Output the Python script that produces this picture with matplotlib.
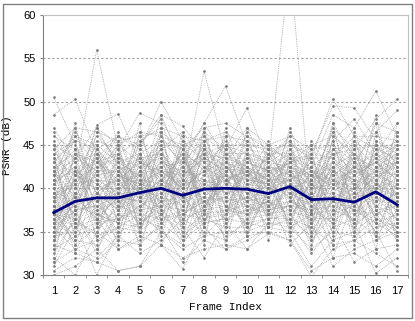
import matplotlib
matplotlib.use("Agg")
import matplotlib.pyplot as plt
from matplotlib.patches import Rectangle

# frame indices and average PSNR (thick navy line)
frames = list(range(1, 18))
mean_psnr = [37.2, 38.5, 38.9, 38.9, 39.5, 40.0, 39.2, 39.9, 40.0,
             39.9, 39.4, 40.2, 38.7, 38.8, 38.4, 39.6, 38.1]

# per-sequence PSNR curves (grey dotted lines), one row per sequence
seq_psnr = [
    [50.5, 45.0, 41.0, 44.0, 40.5, 43.0, 42.0, 44.0, 43.5, 42.5, 41.0, 43.0, 40.0, 42.0, 41.0, 43.5, 42.0],
    [48.5, 50.3, 44.0, 42.5, 41.5, 44.5, 40.0, 42.0, 45.5, 41.0, 40.5, 42.5, 41.5, 43.0, 40.5, 42.0, 41.5],
    [38.0, 42.0, 56.0, 44.5, 39.0, 41.0, 43.5, 40.0, 42.0, 44.5, 39.5, 41.0, 43.0, 40.5, 42.5, 41.0, 43.0],
    [36.5, 39.0, 47.3, 48.6, 43.0, 41.5, 44.0, 42.5, 40.5, 43.0, 42.0, 40.0, 41.0, 44.0, 42.0, 40.5, 39.5],
    [35.0, 38.5, 45.5, 44.5, 48.7, 47.5, 42.0, 41.0, 43.0, 41.5, 43.5, 41.5, 39.0, 41.5, 43.0, 42.0, 40.0],
    [40.0, 37.0, 42.0, 46.0, 44.5, 50.0, 45.5, 43.0, 41.5, 40.0, 42.5, 44.0, 40.5, 39.5, 41.5, 43.0, 41.0],
    [42.0, 44.5, 39.5, 41.0, 45.0, 48.5, 47.2, 44.0, 42.5, 41.5, 40.5, 42.0, 41.5, 40.5, 39.0, 41.5, 42.5],
    [37.5, 40.5, 43.5, 38.5, 42.0, 44.0, 41.0, 53.5, 44.0, 42.0, 41.0, 43.5, 42.0, 41.0, 40.0, 44.0, 41.5],
    [39.0, 41.5, 40.0, 42.5, 40.0, 42.5, 43.0, 47.5, 51.8, 45.0, 42.5, 41.5, 40.5, 43.0, 41.5, 40.0, 42.0],
    [41.0, 43.0, 44.0, 40.5, 43.5, 41.0, 42.5, 46.5, 44.5, 49.3, 43.0, 42.5, 41.0, 42.5, 44.0, 41.5, 40.5],
    [38.5, 41.0, 42.5, 43.5, 41.0, 45.5, 44.5, 42.0, 45.0, 44.0, 43.0, 66.0, 37.3, 41.0, 42.0, 43.0, 41.0],
    [36.0, 39.5, 41.0, 39.5, 42.5, 43.5, 40.5, 45.0, 43.0, 46.0, 44.5, 45.0, 43.5, 50.3, 46.0, 44.5, 43.5],
    [37.0, 38.0, 39.0, 41.5, 39.5, 42.0, 41.5, 43.5, 42.0, 41.0, 41.5, 43.0, 44.0, 49.5, 49.3, 45.5, 44.0],
    [40.5, 42.5, 38.5, 40.0, 41.0, 40.5, 42.0, 41.5, 44.0, 42.5, 40.0, 41.0, 42.5, 48.5, 47.0, 51.2, 46.0],
    [39.5, 40.0, 41.5, 42.0, 40.0, 43.0, 39.5, 42.5, 41.0, 43.5, 42.0, 42.5, 40.0, 47.0, 44.5, 48.0, 50.3],
    [38.0, 41.0, 40.0, 41.0, 43.0, 42.0, 40.0, 44.5, 42.5, 40.5, 41.5, 44.5, 41.0, 46.5, 43.0, 46.5, 49.0],
    [35.5, 37.5, 38.0, 39.0, 38.5, 40.5, 39.0, 40.0, 41.0, 42.0, 40.0, 42.0, 39.5, 45.5, 48.0, 44.0, 47.5],
    [37.0, 36.5, 39.5, 37.5, 40.0, 39.0, 38.0, 41.0, 39.5, 40.0, 39.5, 41.5, 38.5, 44.5, 42.5, 47.5, 46.5],
    [34.5, 35.0, 36.0, 36.5, 37.5, 38.0, 37.5, 39.0, 38.5, 39.0, 38.0, 40.0, 37.0, 42.0, 45.5, 43.5, 45.0],
    [33.0, 34.5, 35.5, 37.0, 36.5, 38.5, 36.0, 38.0, 39.0, 38.0, 38.5, 39.0, 36.5, 40.5, 41.5, 45.0, 44.5],
    [31.5, 33.0, 34.0, 35.5, 35.0, 37.0, 35.0, 37.0, 37.5, 37.0, 37.5, 38.0, 35.0, 38.5, 40.0, 42.0, 43.0],
    [30.5, 32.0, 31.5, 34.0, 33.5, 36.0, 34.0, 36.0, 36.5, 36.0, 36.5, 37.0, 34.0, 37.0, 38.0, 40.0, 41.0],
    [30.0, 31.0, 33.0, 30.5, 31.0, 35.0, 33.0, 34.5, 35.0, 35.0, 36.0, 36.0, 32.5, 35.5, 36.5, 38.5, 39.5],
    [32.0, 30.0, 35.0, 33.0, 34.5, 33.5, 30.7, 35.5, 33.0, 34.0, 35.5, 35.0, 31.0, 34.0, 35.0, 37.0, 38.0],
    [34.0, 36.0, 30.0, 35.0, 36.0, 37.5, 35.5, 32.0, 36.0, 33.0, 34.8, 34.0, 29.8, 33.0, 34.0, 35.5, 36.0],
    [36.0, 38.0, 37.0, 36.0, 38.0, 39.5, 37.0, 38.5, 40.0, 39.5, 39.0, 33.5, 36.0, 31.0, 33.0, 34.0, 35.0],
    [37.5, 39.0, 38.5, 39.5, 39.0, 41.0, 38.5, 40.5, 41.5, 41.0, 40.5, 41.0, 38.0, 36.0, 31.5, 33.0, 33.5],
    [39.0, 40.5, 41.0, 40.5, 41.5, 42.5, 40.0, 42.0, 43.0, 42.0, 41.5, 43.5, 40.5, 38.5, 36.0, 30.2, 32.0],
    [41.5, 43.5, 42.0, 42.0, 43.5, 44.0, 41.5, 43.5, 42.0, 43.5, 43.0, 44.5, 42.0, 40.0, 38.5, 35.0, 30.5],
    [43.0, 46.0, 45.0, 43.0, 44.0, 45.5, 43.0, 45.5, 46.5, 44.5, 44.0, 45.5, 43.0, 42.0, 40.5, 37.0, 34.0],
    [44.5, 47.0, 46.5, 45.5, 46.0, 46.5, 44.5, 47.0, 47.5, 46.0, 45.0, 46.0, 44.5, 45.0, 43.0, 39.0, 36.5],
    [42.5, 44.0, 43.0, 44.0, 45.5, 47.0, 46.0, 45.5, 46.0, 45.5, 44.0, 44.0, 45.0, 46.0, 44.0, 42.0, 38.0],
    [40.0, 38.0, 44.5, 42.0, 39.5, 40.0, 41.0, 39.5, 40.0, 38.5, 39.0, 40.5, 39.0, 39.5, 38.5, 40.5, 39.0],
    [38.5, 36.0, 35.0, 38.0, 37.0, 36.5, 37.0, 36.5, 37.0, 37.5, 38.0, 38.5, 37.5, 38.0, 37.0, 39.0, 37.5],
    [35.5, 33.0, 32.0, 34.5, 32.5, 34.0, 36.5, 35.0, 34.0, 36.5, 37.0, 37.5, 36.5, 36.5, 35.5, 38.0, 36.5],
    [33.5, 32.5, 31.5, 30.5, 31.0, 33.5, 32.0, 33.0, 33.5, 33.0, 36.0, 35.5, 33.0, 35.0, 34.5, 36.5, 35.5],
    [31.0, 35.5, 36.5, 33.0, 34.0, 35.5, 31.5, 34.0, 33.0, 34.5, 35.0, 34.0, 30.5, 32.0, 32.5, 31.0, 33.0],
    [36.5, 34.0, 33.5, 37.0, 35.5, 37.0, 34.5, 36.5, 35.5, 35.5, 36.5, 36.5, 35.5, 33.5, 34.0, 32.5, 31.0],
    [43.5, 41.5, 46.0, 43.5, 42.5, 44.5, 46.5, 43.0, 45.0, 45.0, 44.5, 43.5, 42.5, 44.5, 45.0, 42.5, 44.0],
    [45.0, 43.5, 47.0, 45.0, 46.5, 46.0, 45.0, 46.0, 44.0, 44.0, 43.5, 45.0, 44.0, 43.5, 46.0, 46.0, 45.5],
    [44.0, 45.5, 44.5, 46.0, 45.0, 48.0, 43.5, 47.5, 43.5, 47.0, 45.0, 43.0, 45.0, 44.0, 44.5, 45.0, 43.0],
    [42.0, 39.0, 36.5, 39.0, 37.5, 41.0, 39.5, 39.0, 41.5, 40.5, 40.0, 39.5, 38.0, 39.0, 40.0, 41.0, 40.0],
    [39.5, 37.0, 39.0, 36.5, 38.0, 39.0, 36.5, 37.5, 38.0, 39.0, 37.5, 38.5, 37.0, 37.5, 39.0, 39.5, 38.5],
    [37.0, 35.5, 37.5, 38.5, 36.0, 38.0, 38.5, 36.0, 36.5, 37.5, 38.5, 37.0, 39.5, 36.5, 37.5, 36.0, 37.0],
    [34.0, 39.5, 36.0, 37.5, 39.0, 36.0, 37.0, 38.5, 39.0, 35.5, 39.5, 40.0, 36.0, 39.5, 36.0, 37.5, 35.0],
    [41.0, 42.0, 40.5, 43.0, 41.5, 39.5, 42.5, 40.5, 42.5, 39.5, 38.0, 39.5, 41.5, 41.0, 39.5, 38.5, 40.5],
    [43.0, 40.0, 43.0, 41.5, 40.5, 42.0, 40.5, 42.0, 39.5, 41.5, 42.5, 42.0, 39.0, 42.5, 41.0, 40.0, 39.0],
    [40.5, 44.0, 42.0, 37.5, 44.0, 40.5, 44.0, 38.0, 40.5, 42.5, 41.0, 41.0, 42.0, 40.0, 42.5, 44.0, 42.5],
    [32.5, 36.5, 34.5, 35.5, 37.0, 35.0, 33.5, 37.5, 34.5, 36.0, 35.5, 36.5, 34.5, 37.5, 36.5, 34.5, 37.5],
    [35.0, 37.5, 38.0, 36.0, 35.5, 38.5, 39.0, 36.5, 37.5, 38.0, 37.0, 38.0, 37.5, 36.0, 38.5, 36.0, 34.5],
    [38.0, 33.5, 40.5, 39.0, 38.5, 37.0, 40.5, 41.0, 38.0, 37.0, 38.5, 37.5, 38.5, 38.5, 37.5, 39.5, 38.0],
    [41.5, 46.5, 43.5, 40.0, 42.0, 46.0, 42.5, 44.0, 45.0, 43.0, 42.0, 43.0, 43.5, 43.5, 41.5, 43.0, 44.5],
    [46.0, 44.5, 41.5, 45.0, 43.0, 45.0, 41.0, 45.0, 41.0, 42.0, 43.5, 45.5, 42.0, 41.5, 43.5, 42.5, 41.5],
    [36.0, 42.5, 39.5, 41.5, 40.5, 40.0, 38.0, 40.0, 37.0, 38.5, 40.5, 39.0, 40.0, 40.5, 40.5, 38.0, 39.5],
    [44.0, 34.0, 45.0, 35.5, 44.5, 36.0, 46.0, 37.0, 44.0, 36.5, 43.0, 35.0, 44.5, 34.5, 45.0, 36.0, 43.5],
    [33.5, 44.5, 34.0, 45.5, 35.0, 46.5, 35.5, 45.0, 36.5, 44.5, 37.0, 45.5, 34.0, 46.0, 35.0, 45.5, 34.5],
    [42.5, 36.0, 40.0, 33.5, 42.0, 38.0, 44.5, 36.0, 41.0, 39.5, 35.5, 43.0, 38.0, 42.5, 33.5, 41.0, 37.0],
    [38.5, 43.5, 36.5, 44.0, 38.5, 42.5, 36.0, 44.5, 39.0, 42.0, 38.5, 36.0, 42.5, 37.5, 43.0, 38.0, 44.0],
    [45.5, 39.0, 43.5, 37.5, 40.5, 44.5, 38.5, 41.5, 46.0, 40.0, 44.0, 40.5, 36.5, 42.0, 39.5, 47.5, 36.5],
    [31.5, 37.0, 32.5, 39.5, 33.5, 40.5, 34.0, 38.0, 41.5, 34.5, 40.0, 36.5, 41.0, 33.5, 40.5, 33.0, 42.0],
    [40.0, 32.5, 38.5, 42.5, 36.5, 35.5, 41.5, 34.5, 37.0, 43.0, 36.0, 41.5, 33.5, 39.0, 44.5, 37.5, 35.5],
    [36.0, 41.0, 45.0, 39.5, 46.0, 41.5, 36.5, 43.0, 38.0, 36.0, 42.5, 38.5, 45.5, 41.5, 37.0, 40.5, 46.5],
    [43.0, 45.5, 37.0, 36.0, 40.0, 37.5, 43.5, 39.5, 34.0, 41.5, 39.0, 44.0, 37.0, 34.0, 41.5, 43.5, 39.0],
    [34.5, 38.5, 41.5, 44.5, 34.5, 43.0, 39.5, 35.5, 43.5, 37.5, 37.5, 34.5, 39.5, 44.0, 38.0, 35.0, 40.5],
    [39.0, 35.0, 43.0, 41.0, 38.0, 45.0, 35.0, 41.0, 40.0, 45.5, 41.0, 42.0, 35.5, 41.5, 35.0, 42.0, 45.0],
    [41.0, 47.0, 39.0, 34.5, 43.0, 34.5, 41.0, 46.5, 37.5, 39.0, 44.5, 37.5, 40.5, 36.5, 44.0, 39.0, 41.5],
    [37.5, 33.5, 35.5, 40.0, 35.5, 39.0, 45.0, 37.0, 42.0, 35.0, 39.5, 43.5, 43.5, 38.0, 39.5, 44.5, 33.5],
    [46.5, 41.5, 40.5, 38.0, 41.5, 36.5, 37.5, 44.0, 35.5, 40.5, 36.5, 40.5, 38.5, 45.5, 37.5, 37.0, 38.5],
    [35.5, 40.0, 47.0, 42.5, 37.0, 42.0, 40.0, 33.5, 45.0, 38.0, 43.5, 46.0, 34.5, 40.0, 42.5, 40.5, 44.5],
    [42.0, 37.5, 33.0, 37.0, 45.5, 38.0, 33.5, 40.5, 39.5, 46.5, 37.5, 38.0, 42.0, 35.5, 46.5, 34.0, 36.0],
    [39.5, 46.0, 42.5, 46.5, 39.5, 48.5, 42.5, 38.5, 36.5, 42.5, 34.0, 42.5, 37.5, 43.0, 34.5, 46.5, 42.5],
    [33.0, 39.5, 38.5, 35.0, 42.0, 33.5, 38.0, 46.0, 40.5, 34.5, 41.5, 35.0, 40.0, 32.0, 39.0, 41.5, 34.0],
    [47.0, 43.0, 36.0, 43.5, 33.0, 41.0, 44.0, 36.5, 47.0, 41.0, 45.5, 39.0, 36.0, 38.5, 41.0, 36.5, 47.5],
    [37.0, 34.5, 44.5, 38.5, 47.5, 37.0, 39.0, 43.5, 33.5, 44.0, 38.0, 47.0, 39.5, 47.5, 36.5, 42.5, 39.0],
    [44.5, 40.5, 34.5, 41.5, 36.0, 46.5, 37.0, 39.0, 41.0, 38.5, 35.5, 38.5, 44.0, 36.0, 45.5, 39.5, 44.0],
    [36.5, 44.0, 41.0, 36.5, 43.5, 35.0, 43.0, 34.0, 44.5, 36.0, 43.0, 40.0, 33.0, 42.5, 38.0, 48.5, 37.5],
    [41.5, 36.5, 46.5, 43.0, 38.5, 44.0, 35.5, 47.0, 38.5, 43.5, 40.5, 36.0, 41.0, 46.5, 40.0, 34.5, 41.0],
    [32.0, 42.0, 37.5, 34.0, 40.5, 38.5, 46.5, 37.5, 42.5, 40.0, 37.0, 44.5, 38.5, 35.0, 43.0, 41.0, 36.0],
    [45.0, 38.0, 42.0, 45.0, 35.0, 41.5, 38.5, 44.5, 36.0, 47.0, 41.5, 37.0, 45.0, 39.5, 36.0, 44.0, 45.5],
    [38.0, 47.5, 36.5, 39.0, 44.0, 36.5, 42.0, 35.5, 46.0, 37.0, 44.0, 42.5, 36.0, 43.5, 47.0, 37.5, 38.0],
    [35.0, 41.5, 43.5, 46.0, 39.0, 47.0, 34.5, 42.0, 38.0, 42.0, 39.5, 46.5, 43.0, 37.0, 39.5, 42.5, 43.0],
    [43.5, 35.5, 39.5, 37.5, 46.5, 39.5, 44.5, 38.0, 42.0, 35.5, 42.0, 35.5, 37.0, 44.5, 41.5, 36.5, 35.0],
    [40.5, 42.5, 35.5, 42.0, 37.5, 43.5, 40.0, 45.5, 35.0, 44.5, 36.5, 43.0, 41.5, 39.0, 37.5, 45.0, 42.0],
    [34.0, 37.5, 44.0, 38.0, 41.0, 37.5, 45.5, 36.0, 43.0, 38.5, 45.0, 39.5, 35.0, 47.5, 43.5, 38.5, 46.0],
]

fig = plt.figure(figsize=(4.15, 3.21), dpi=100)
# outer chart border (Excel style)
fig.patches.append(Rectangle((3 / 415, 3 / 321), 409 / 415, 314 / 321, transform=fig.transFigure,
                             fill=False, edgecolor="#808080", linewidth=1))

ax = fig.add_axes([43 / 415, 46 / 321, 365 / 415, 260 / 321])

for s in seq_psnr:
    ax.plot(frames, s, color="#a0a0a0", linestyle=(0, (1, 1.2)), linewidth=0.6,
            marker=".", markersize=1.8, markerfacecolor="#7a7a7a", markeredgecolor="#7a7a7a")

ax.plot(frames, mean_psnr, color="#000080", linewidth=2, zorder=5)

ax.set_xlim(0.5, 17.5)
ax.set_ylim(30, 60)
ax.set_xticks(frames)
ax.set_xticks([f + 0.5 for f in range(0, 18)], minor=True)
ax.set_yticks(range(30, 61, 5))
ax.tick_params(axis="x", which="major", length=0, pad=8)
ax.tick_params(axis="x", which="minor", length=2.5, color="#808080")
ax.tick_params(axis="y", length=2.5, color="#808080", pad=3)
for lbl in ax.get_xticklabels() + ax.get_yticklabels():
    lbl.set_fontfamily("Liberation Sans")
    lbl.set_fontsize(8)

for y in range(35, 60, 5):
    ax.axhline(y, color="#a0a0a0", linestyle=(0, (2, 2)), linewidth=0.8, zorder=0)

ax.spines["left"].set_color("#808080")
ax.spines["bottom"].set_color("#808080")
ax.spines["top"].set_color("#c0c0c0")
ax.spines["right"].set_color("#c0c0c0")

ax.set_xlabel("Frame Index", fontfamily="Liberation Mono", fontsize=8, labelpad=4)
ax.set_ylabel("PSNR (dB)", fontfamily="Liberation Mono", fontsize=8)
ax.yaxis.set_label_coords(-0.085, 0.5)

fig.savefig("out.png", dpi=100)
